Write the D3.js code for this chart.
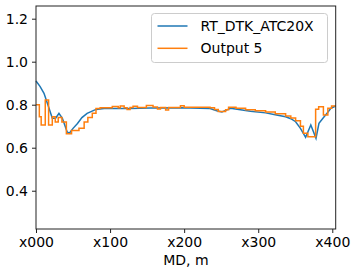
<!DOCTYPE html>
<html>
<head>
<meta charset="utf-8">
<script src="https://cdn.jsdelivr.net/npm/d3@7"></script>
<style>
  body { margin: 0; background: #fff; }
  svg { display: block; font-family: "DejaVu Sans", sans-serif; }
</style>
</head>
<body>
<div id="chart"></div>
<script>
const width = 357
const height = 274
const margin = { top: 6, right: 21.3, bottom: 45, left: 36 }

const seriesNames = ["RT_DTK_ATC20X", "Output 5"]
const refMD = [0, 5.4, 10.8, 17.6, 22, 26.5, 31, 35.6, 42, 45, 50, 56, 62, 69, 81, 92,
  127, 154, 195, 222, 235, 244, 251, 257, 262.5, 276, 289.5, 310, 323, 337, 344,
  350.5, 357, 364, 371, 378, 382, 389, 394, 398, 404.6]
const refVal = [0.91, 0.885, 0.853, 0.783, 0.737, 0.737, 0.76, 0.737, 0.674, 0.667, 0.69,
  0.713, 0.74, 0.76, 0.778, 0.782, 0.782, 0.785, 0.786, 0.784, 0.782, 0.772, 0.766, 0.775,
  0.783, 0.777, 0.77, 0.762, 0.753, 0.744, 0.735, 0.721, 0.69, 0.648, 0.706, 0.644, 0.713,
  0.744, 0.765, 0.783, 0.794]
const outMD = [0, 4.5, 7, 12.5, 17, 22, 26, 30, 35, 41, 48, 58, 65, 70, 76, 81, 86.6, 103,
  111, 113.7, 119, 123, 127, 131, 137, 149, 158, 164, 168, 175, 179, 195, 200, 235, 241,
  246, 256, 260, 270, 283, 296, 310, 323, 337, 344, 350.5, 357, 361, 367, 377.5, 381.6, 388,
  394, 399, 405]
const outVal = [0.8, 0.744, 0.706, 0.822, 0.706, 0.744, 0.72, 0.74, 0.72, 0.665, 0.68,
  0.69, 0.72, 0.74, 0.76, 0.782, 0.786, 0.792, 0.786, 0.794, 0.786, 0.778, 0.787, 0.793,
  0.787, 0.796, 0.789, 0.78, 0.787, 0.775, 0.787, 0.795, 0.788, 0.786, 0.778, 0.768, 0.776,
  0.788, 0.783, 0.777, 0.772, 0.766, 0.758, 0.748, 0.738, 0.725, 0.7, 0.667, 0.651, 0.779,
  0.79, 0.752, 0.783, 0.794, 0.794]
const xTicks = [0, 100, 200, 300, 400]
const xTickLabels = ["x000", "x100", "x200", "x300", "x400"]
const yTicks = [0.4, 0.6, 0.8, 1.0, 1.2]
const colors = ["#1f77b4", "#ff7f0e"]

const svg = d3.select("#chart").append("svg")
  .attr("width", width)
  .attr("height", height)

const x = d3.scaleLinear().domain([0, 404.6]).range([margin.left, width - margin.right])
const y = d3.scaleLinear().domain([0.222, 1.259]).range([height - margin.bottom, margin.top])

// axes
const xAxis = d3.axisBottom(x).tickValues(xTicks).tickSize(4).tickPadding(4)
  .tickFormat((d, i) => xTickLabels[i])
const yAxis = d3.axisLeft(y).tickValues(yTicks).tickSize(4).tickPadding(4)
  .tickFormat(d3.format(".1f"))

const gx = svg.append("g")
  .attr("transform", "translate(0," + (height - margin.bottom) + ")")
  .call(xAxis)
const gy = svg.append("g")
  .attr("transform", "translate(" + margin.left + ",0)")
  .call(yAxis)
for (const g of [gx, gy]) {
  g.select(".domain").remove()
  g.selectAll("line").attr("stroke", "#222").attr("stroke-width", 1)
  g.selectAll("text").attr("font-size", 14).attr("fill", "#000")
    .attr("font-family", "DejaVu Sans, sans-serif")
}

// lines
const refPts = refMD.map((d, i) => [d, refVal[i]])
const outPts = outMD.map((d, i) => [d, outVal[i]])
const line = d3.line().x(d => x(d[0])).y(d => y(d[1]))

svg.append("path").datum(refPts)
  .attr("fill", "none").attr("stroke", colors[0]).attr("stroke-width", 1.5)
  .attr("d", line)
svg.append("path").datum(outPts)
  .attr("fill", "none").attr("stroke", colors[1]).attr("stroke-width", 1.5)
  .attr("d", line.curve(d3.curveStepAfter))

// frame
svg.append("rect")
  .attr("x", margin.left).attr("y", margin.top)
  .attr("width", width - margin.left - margin.right)
  .attr("height", height - margin.top - margin.bottom)
  .attr("fill", "none").attr("stroke", "#222").attr("stroke-width", 1)

// x label
svg.append("text")
  .attr("x", (margin.left + width - margin.right) / 2)
  .attr("y", 265)
  .attr("text-anchor", "middle")
  .attr("font-size", 14)
  .text("MD, m")

// legend
const leg = svg.append("g").attr("transform", "translate(151.5,13.5)")
leg.append("rect")
  .attr("width", 176).attr("height", 49).attr("rx", 3)
  .attr("fill", "#fff").attr("fill-opacity", 0.8)
  .attr("stroke", "#ccc").attr("stroke-width", 1)
seriesNames.forEach((name, i) => {
  const yy = 12.5 + i * 22.3
  leg.append("line")
    .attr("x1", 6).attr("x2", 36).attr("y1", yy).attr("y2", yy)
    .attr("stroke", colors[i]).attr("stroke-width", 1.5)
  leg.append("text")
    .attr("x", 49).attr("y", yy + 5)
    .attr("font-size", 14)
    .text(name)
})
</script>
</body>
</html>
